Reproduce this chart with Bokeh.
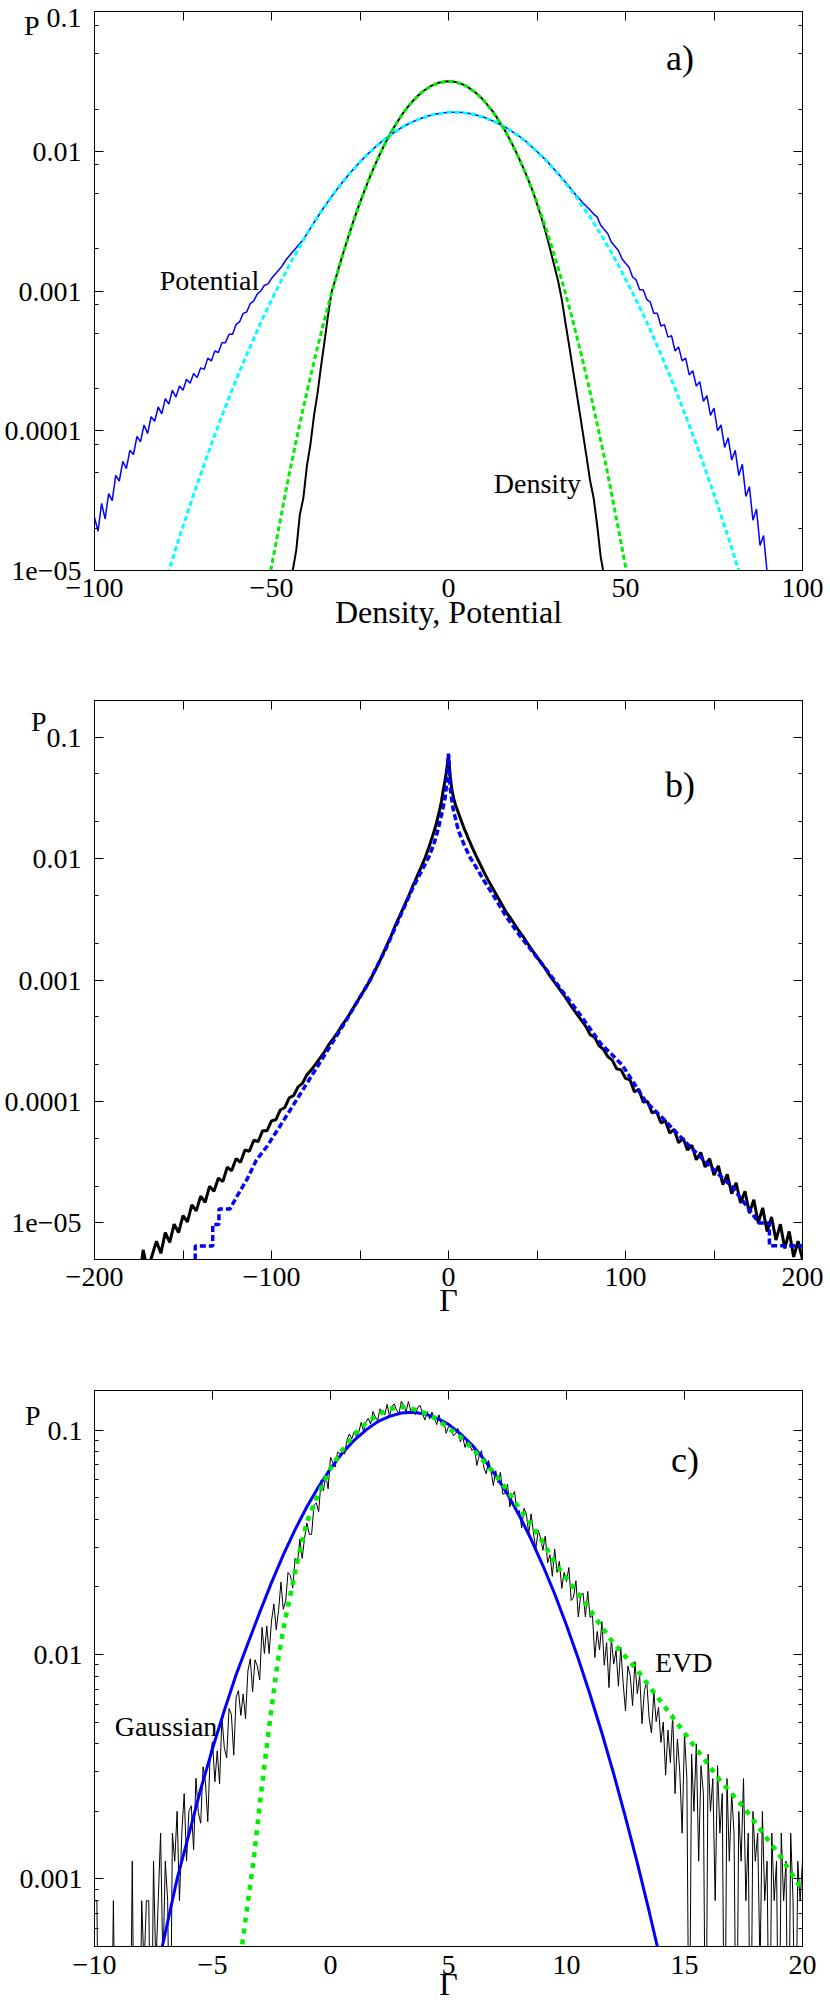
from bokeh.plotting import figure
from bokeh.layouts import column
from bokeh.models import FixedTicker, LogAxis, LinearAxis, Label, Range1d
from bokeh.embed import file_html
from bokeh.resources import INLINE
import numpy as np

FONT = "Liberation Serif"
M = "\u2212"
NB = "\u00a0"

# ---------------- panel a : Density / Potential ----------------
a_dens_x = list(range(-45, 45))
a_dens_p = [
    6.0e-6, 1.0e-5, 1.4e-5, 2.5e-5, 3.3e-5, 5.6e-5, 8.0e-5, 1.28e-4, 1.85e-4, 2.9e-4,
    4.4e-4, 6.8e-4, 9.9e-4, 1.20e-3, 1.47e-3, 1.78e-3, 2.15e-3, 2.58e-3, 3.08e-3, 3.65e-3,
    4.29e-3, 5.02e-3, 5.83e-3, 6.74e-3, 7.73e-3, 8.81e-3, 9.98e-3, 1.125e-2, 1.257e-2, 1.40e-2,
    1.54e-2, 1.69e-2, 1.85e-2, 2.00e-2, 2.15e-2, 2.30e-2, 2.45e-2, 2.58e-2, 2.71e-2, 2.82e-2,
    2.92e-2, 3.01e-2, 3.08e-2, 3.13e-2, 3.16e-2, 3.17e-2, 3.16e-2, 3.13e-2, 3.08e-2, 3.01e-2,
    2.92e-2, 2.82e-2, 2.71e-2, 2.58e-2, 2.45e-2, 2.30e-2, 2.15e-2, 2.00e-2, 1.85e-2, 1.69e-2,
    1.54e-2, 1.40e-2, 1.257e-2, 1.125e-2, 9.98e-3, 8.81e-3, 7.73e-3, 6.74e-3, 5.83e-3, 5.02e-3,
    4.2e-3, 3.5e-3, 2.9e-3, 2.35e-3, 1.86e-3, 1.48e-3, 1.17e-3, 8.7e-4, 6.0e-4, 4.2e-4,
    2.9e-4, 2.0e-4, 1.38e-4, 9.5e-5, 6.5e-5, 4.4e-5, 3.3e-5, 2.1e-5, 1.25e-5, 9.0e-6,
]
a_dfit_x = [-51, -50, -47.5, -45, -42.5, -40, -37.5, -35, -32.5, -30, -27.5, -25, -22.5,
            -20, -17.5, -15, -12.5, -10, -7.5, -5, -2.5, 0, 2.5, 5, 7.5, 10, 12.5, 15,
            17.5, 20, 22.5, 25, 27.5, 30, 32.5, 35, 37.5, 40, 42.5, 45, 47.5, 50, 51]
a_dfit_p = [7.7e-6, 1.07e-5, 2.3e-5, 4.9e-5, 9.8e-5, 1.90e-4, 3.52e-4, 6.30e-4, 1.08e-3,
            1.78e-3, 2.82e-3, 4.29e-3, 6.28e-3, 8.81e-3, 1.19e-2, 1.54e-2, 1.92e-2, 2.30e-2,
            2.65e-2, 2.92e-2, 3.10e-2, 3.17e-2, 3.10e-2, 2.92e-2, 2.65e-2, 2.30e-2, 1.92e-2,
            1.54e-2, 1.19e-2, 8.81e-3, 6.28e-3, 4.29e-3, 2.82e-3, 1.78e-3, 1.08e-3, 6.30e-4,
            3.52e-4, 1.90e-4, 9.8e-5, 4.9e-5, 2.3e-5, 1.07e-5, 7.7e-6]
a_pot_x = list(range(-100, -40)) + list(range(-40, 41, 2)) + list(range(41, 92))
a_pot_p = [
    2.40e-5, 1.91e-5, 3.02e-5, 2.34e-5, 3.55e-5, 3.16e-5, 4.79e-5, 4.37e-5, 6.03e-5, 5.37e-5,
    7.24e-5, 6.76e-5, 9.12e-5, 8.32e-5, 1.10e-4, 9.55e-5, 1.26e-4, 1.17e-4, 1.48e-4, 1.32e-4,
    1.70e-4, 1.55e-4, 1.95e-4, 1.74e-4, 2.09e-4, 1.95e-4, 2.34e-4, 2.19e-4, 2.57e-4, 2.40e-4,
    2.82e-4, 2.75e-4, 3.31e-4, 3.16e-4, 3.72e-4, 3.63e-4, 4.27e-4, 4.27e-4, 4.90e-4, 4.90e-4,
    5.75e-4, 6.03e-4, 6.92e-4, 7.08e-4, 8.13e-4, 8.51e-4, 9.55e-4, 1.00e-3, 1.10e-3, 1.12e-3,
    1.23e-3, 1.32e-3, 1.41e-3, 1.51e-3, 1.66e-3, 1.78e-3, 1.91e-3, 2.04e-3, 2.19e-3, 2.34e-3,
    2.56e-3, 3.09e-3, 3.69e-3, 4.38e-3, 5.14e-3, 5.98e-3, 6.90e-3, 7.87e-3, 8.91e-3, 9.99e-3,
    1.11e-2, 1.22e-2, 1.33e-2, 1.44e-2, 1.54e-2, 1.63e-2, 1.71e-2, 1.78e-2, 1.84e-2, 1.87e-2,
    1.90e-2, 1.90e-2, 1.89e-2, 1.86e-2, 1.81e-2, 1.75e-2, 1.67e-2, 1.58e-2, 1.49e-2, 1.38e-2,
    1.28e-2, 1.17e-2, 1.05e-2, 9.45e-3, 8.39e-3, 7.38e-3, 6.45e-3, 5.62e-3, 4.86e-3, 4.26e-3,
    3.80e-3,
    3.55e-3, 3.39e-3, 2.95e-3, 2.75e-3, 2.57e-3, 2.24e-3, 2.09e-3, 1.95e-3, 1.70e-3, 1.58e-3,
    1.48e-3, 1.26e-3, 1.20e-3, 1.02e-3, 1.02e-3, 8.71e-4, 8.32e-4, 6.92e-4, 6.92e-4, 5.62e-4,
    5.75e-4, 4.68e-4, 4.79e-4, 3.72e-4, 3.98e-4, 3.16e-4, 3.31e-4, 2.51e-4, 2.69e-4, 2.09e-4,
    2.24e-4, 1.62e-4, 1.78e-4, 1.29e-4, 1.45e-4, 1.00e-4, 1.10e-4, 7.59e-5, 8.91e-5, 6.17e-5,
    7.24e-5, 4.79e-5, 5.75e-5, 3.39e-5, 3.98e-5, 2.29e-5, 2.75e-5, 1.51e-5, 1.78e-5, 9.77e-6,
    8.3e-6,
]
a_pfit_x = list(range(-80, 85, 4))
a_pfit_p = [8.3e-6, 1.74e-5, 3.5e-5, 6.8e-5, 1.28e-4, 2.32e-4, 4.0e-4, 6.8e-4, 1.09e-3,
            1.70e-3, 2.56e-3, 3.70e-3, 5.14e-3, 6.9e-3, 8.9e-3, 1.11e-2, 1.33e-2, 1.54e-2,
            1.71e-2, 1.84e-2, 1.90e-2, 1.89e-2, 1.81e-2, 1.67e-2, 1.49e-2, 1.28e-2, 1.05e-2,
            8.4e-3, 6.4e-3, 4.75e-3, 3.38e-3, 2.32e-3, 1.53e-3, 9.7e-4, 6.0e-4, 3.52e-4,
            2.01e-4, 1.10e-4, 5.8e-5, 2.96e-5, 1.45e-5, 6.8e-6]

# ---------------- panel b ----------------
b_data_x = ([-175, -172.5, -170] + [-167.5 + 2.5 * i for i in range(60)]
            + list(range(-19, 20)) + [20 + 2.5 * i for i in range(73)])
b_data_p = [
    3.0e-6, 6.0e-6, 4.0e-6,
    5.37e-6, 7.08e-6, 5.62e-6, 8.32e-6, 6.92e-6, 9.77e-6, 8.32e-6, 1.15e-5, 1.02e-5, 1.41e-5,
    1.26e-5, 1.66e-5, 1.48e-5, 2.00e-5, 1.82e-5, 2.34e-5, 2.19e-5, 2.88e-5, 2.69e-5, 3.39e-5,
    3.16e-5, 3.98e-5, 3.89e-5, 4.79e-5, 4.68e-5, 5.75e-5, 5.75e-5, 6.92e-5, 7.08e-5, 8.51e-5,
    8.91e-5, 1.07e-4, 1.12e-4, 1.32e-4, 1.41e-4, 1.66e-4, 1.82e-4, 2.04e-4, 2.29e-4, 2.57e-4,
    2.95e-4, 3.31e-4, 3.72e-4, 4.27e-4, 4.79e-4, 5.50e-4, 6.31e-4, 7.24e-4, 8.32e-4, 9.55e-4,
    1.12e-3, 1.32e-3, 1.58e-3, 1.91e-3, 2.29e-3, 2.82e-3, 3.39e-3, 4.07e-3, 4.90e-3, 6.03e-3,
    6.46e-3, 7.00e-3, 7.59e-3, 8.13e-3, 8.81e-3, 9.55e-3, 1.035e-2, 1.135e-2, 1.245e-2, 1.38e-2,
    1.53e-2, 1.70e-2, 1.905e-2, 2.19e-2, 2.51e-2, 2.95e-2, 3.63e-2, 4.37e-2, 5.37e-2, 7.21e-2,
    4.68e-2, 3.63e-2, 3.09e-2, 2.75e-2, 2.51e-2, 2.29e-2, 2.09e-2, 1.905e-2, 1.74e-2, 1.62e-2,
    1.48e-2, 1.38e-2, 1.27e-2, 1.175e-2, 1.10e-2, 1.02e-2, 9.55e-3, 8.91e-3, 8.32e-3,
    7.76e-3, 6.61e-3, 5.69e-3, 4.90e-3, 4.22e-3, 3.63e-3, 3.24e-3, 2.85e-3, 2.51e-3, 2.24e-3,
    1.97e-3, 1.74e-3, 1.55e-3, 1.38e-3, 1.22e-3, 1.07e-3, 9.55e-4, 8.51e-4, 7.59e-4, 6.68e-4,
    5.89e-4, 5.25e-4, 4.68e-4, 4.17e-4, 3.55e-4, 3.39e-4, 2.88e-4, 2.69e-4, 2.34e-4, 2.19e-4,
    1.86e-4, 1.82e-4, 1.55e-4, 1.51e-4, 1.20e-4, 1.26e-4, 9.89e-5, 1.00e-4, 8.04e-5, 8.32e-5,
    6.68e-5, 6.92e-5, 5.50e-5, 5.89e-5, 4.57e-5, 5.01e-5, 3.98e-5, 4.37e-5, 3.31e-5, 3.80e-5,
    2.88e-5, 3.39e-5, 2.48e-5, 2.95e-5, 2.07e-5, 2.51e-5, 1.74e-5, 2.14e-5, 1.46e-5, 1.82e-5,
    1.20e-5, 1.55e-5, 1.00e-5, 1.33e-5, 8.51e-6, 1.12e-5, 7.24e-6, 9.77e-6, 6.17e-6, 8.51e-6,
    5.25e-6, 7.08e-6, 5.01e-6,
]
b_fit_x = [-143.1, -143.1, -133.2, -133.2, -129.7, -129.7, -123.5, -119.7, -114.1, -108.5,
           -102.9, -95.4, -86, -73, -58, -44.6, -35, -26.7, -20, -15, -11.2, -8, -5.6, -3.5,
           -1.9, -1, 0, 0.95, 2.5, 5.6, 9, 12.2, 16, 20, 26, 32.7, 40, 47, 53.5, 63, 74.3,
           86, 98.1, 111.4, 121.8, 134, 147, 160, 169.4, 175.3, 181.3, 181.3, 200]
b_fit_p = [3.0e-6, 6.45e-6, 6.45e-6, 9.7e-6, 9.7e-6, 1.3e-5, 1.3e-5, 1.64e-5, 2.25e-5, 3.3e-5,
           4.2e-5, 6.2e-5, 1.02e-4, 2.05e-4, 4.6e-4, 9.8e-4, 1.86e-3, 3.5e-3, 5.8e-3, 8.0e-3,
           1.02e-2, 1.35e-2, 1.80e-2, 2.45e-2, 3.17e-2, 4.2e-2, 7.3e-2, 3.83e-2, 2.6e-2,
           1.70e-2, 1.28e-2, 1.02e-2, 8.3e-3, 6.6e-3, 4.8e-3, 3.3e-3, 2.35e-3, 1.74e-3,
           1.32e-3, 8.6e-4, 5.2e-4, 3.0e-4, 2.0e-4, 1.0e-4, 7.1e-5, 4.6e-5, 3.0e-5, 2.0e-5,
           1.32e-5, 1.0e-5, 1.0e-5, 6.5e-6, 6.5e-6]

# ---------------- panel c ----------------
c_data_x = np.linspace(-10, 20, 301)
c_data_p = [
    8e-4, 8e-4, 1e-4, 1e-4, 1e-4, 4e-4, 1e-4, 1e-4, 8e-4, 1e-4, 1e-4, 4e-4, 1e-4, 1e-4, 4e-4,
    1e-4, 1.2e-3, 1e-4, 4e-4, 1e-4, 8e-4, 4e-4, 8e-4, 8e-4, 1e-4,
    1.2e-3, 4e-4, 8e-4, 1.6e-3, 4e-4, 1.2e-3, 8e-4, 1e-4, 1.6e-3, 1.2e-3, 2.0e-3, 8e-4,
    1.6e-3, 2.4e-3, 1.2e-3, 2.0e-3,
    2.12e-3, 1.35e-3, 2.81e-3, 1.98e-3, 1.77e-3, 3.16e-3, 2.71e-3, 1.80e-3, 3.56e-3, 4.08e-3,
    2.71e-3, 3.72e-3, 2.65e-3, 5.27e-3, 3.84e-3, 3.46e-3, 5.75e-3, 5.41e-3, 3.56e-3, 6.46e-3,
    6.90e-3, 5.35e-3, 6.66e-3, 5.18e-3, 8.44e-3, 9.56e-3, 6.83e-3, 9.47e-3, 8.88e-3, 7.70e-3,
    1.32e-2, 1.01e-2, 1.34e-2, 1.01e-2, 1.41e-2, 1.68e-2, 1.29e-2, 1.57e-2, 2.10e-2, 1.59e-2,
    1.73e-2, 2.32e-2, 2.25e-2, 1.98e-2, 2.68e-2, 2.54e-2, 3.27e-2, 2.68e-2, 3.30e-2, 3.85e-2,
    3.43e-2, 3.43e-2, 4.62e-2, 4.73e-2, 4.33e-2, 5.96e-2, 5.36e-2, 6.28e-2, 5.47e-2, 7.57e-2,
    0.0715, 0.0684, 0.0797, 0.0785, 0.0790, 0.0781, 0.0907, 0.0960, 0.0913, 0.0982,
    0.0932, 0.0979, 0.1082, 0.0984, 0.1085, 0.1128, 0.1063, 0.1209, 0.1142, 0.1104,
    0.1243, 0.1200, 0.1168, 0.1302, 0.1153, 0.1276, 0.1308, 0.1225, 0.1185, 0.1341,
    0.1283, 0.1207, 0.1338, 0.1219, 0.1249, 0.1170, 0.1263, 0.1286, 0.1183, 0.1107,
    0.1208, 0.1119, 0.1201, 0.1130, 0.1057, 0.1169, 0.1057, 0.1105, 0.0967, 0.1034,
    0.1056, 0.0944, 0.0960, 0.1017, 0.0887, 0.0932, 0.0837, 0.0903, 0.0858, 0.0809,
    0.0837, 0.0695, 0.0767, 0.0810, 0.0678, 0.0638, 0.0731, 0.0661, 0.0566, 0.0659,
    0.0583, 0.0648, 0.0518, 0.0523, 0.0574, 0.0455, 0.0508, 0.0532, 0.0424, 0.0438,
    0.0367, 0.0448, 0.0422, 0.0345, 0.0423, 0.0348, 0.0294, 0.0358, 0.0331, 0.0291,
    0.0337, 0.0256, 0.0278, 0.0223, 0.0295, 0.0232, 0.0260, 0.0197, 0.0232, 0.0211,
    0.0244, 0.0174, 0.0180, 0.0213, 0.0147, 0.0183, 0.0188, 0.0147, 0.0191, 0.0146,
    0.01494, 0.00970, 0.01266, 0.01047, 0.01400, 0.00895, 0.01130, 0.00712, 0.01182, 0.00906,
    0.01043, 0.00722, 0.01076, 0.00747, 0.00560, 0.00889, 0.00806, 0.00592, 0.00930, 0.00669,
    0.00805, 0.00492, 0.00690, 0.00763, 0.00523, 0.00447, 0.00678, 0.00503, 0.00582, 0.00406,
    5.0e-3, 2.9e-3, 4.6e-3, 3.3e-3, 5.4e-3, 2.4e-3, 4.2e-3, 3.0e-3, 1.6e-3, 4.4e-3,
    2.8e-3, 1e-4, 3.6e-3, 2.0e-3, 4.0e-3, 1.2e-3, 3.2e-3, 2.4e-3, 1e-4, 3.6e-3,
    2.0e-3, 2.8e-3, 8e-4, 3.2e-3, 1.6e-3, 2.4e-3, 1e-4, 2.8e-3, 1.2e-3, 2.4e-3,
    1.6e-3, 1e-4, 2.0e-3, 1.2e-3, 2.8e-3, 8e-4, 1.6e-3, 1e-4, 2.0e-3, 1.2e-3,
    1.6e-3, 4e-4, 2.0e-3, 8e-4, 1.2e-3, 1e-4, 1.6e-3, 8e-4, 1.2e-3, 1e-4,
    1.6e-3, 8e-4, 1.2e-3, 1e-4, 1.6e-3, 8e-4, 1e-4, 1.2e-3, 8e-4, 1.2e-3,
]
c_gauss_x = [-7.5 + 0.5 * i for i in range(44)]
c_gauss_p = [3.31e-4, 5.75e-4, 1.0e-3, 1.58e-3, 2.51e-3, 3.80e-3, 5.62e-3, 8.13e-3, 1.12e-2,
             1.54e-2, 2.09e-2, 2.78e-2, 3.60e-2, 4.55e-2, 5.60e-2, 6.73e-2, 7.89e-2, 9.00e-2,
             0.100, 0.109, 0.115, 0.119, 0.120, 0.118, 0.113, 0.106, 9.64e-2, 8.57e-2,
             7.41e-2, 6.27e-2, 5.18e-2, 4.16e-2, 3.26e-2, 2.49e-2, 1.86e-2, 1.35e-2, 9.57e-3,
             6.62e-3, 4.47e-3, 2.94e-3, 1.88e-3, 1.18e-3, 7.18e-4, 4.28e-4]
c_evd_x = [-3.8, -3.5, -3.25, -3.0, -2.75, -2.5, -2.25, -2.0, -1.75, -1.5, -1.25, -1.0] + \
          [-0.5 + 0.5 * i for i in range(42)]
c_evd_p = [4.57e-4, 7.94e-4, 1.23e-3, 2.14e-3, 3.55e-3, 5.75e-3, 9.12e-3, 1.29e-2, 1.74e-2,
           2.34e-2, 3.05e-2, 3.89e-2,
           5.25e-2, 6.76e-2, 8.13e-2, 9.55e-2, 0.107, 0.117, 0.124, 0.127, 0.124, 0.119,
           0.112, 0.102, 9.33e-2, 8.32e-2, 7.24e-2, 6.31e-2, 5.37e-2, 4.47e-2, 3.80e-2,
           3.16e-2, 2.57e-2, 2.19e-2, 1.86e-2, 1.58e-2, 1.32e-2, 1.12e-2, 9.77e-3, 8.51e-3,
           7.24e-3, 6.17e-3, 5.25e-3, 4.47e-3, 3.80e-3, 3.24e-3, 2.75e-3, 2.40e-3, 2.09e-3,
           1.78e-3, 1.51e-3, 1.29e-3, 1.07e-3, 8.91e-4]

# ---------------- ticks and tick labels ----------------
y_major = [1e-05, 0.0001, 0.001, 0.01, 0.1]
y_major_labels = ["1e" + M + "05", "0.0001", "0.001", "0.01", "0.1"]
a_x_labeled = [-100, -50, 0, 50, 100]
a_x_top = [-75, -50, -25, 0, 25, 50, 75]
b_x_ticks = [-200, -150, -100, -50, 0, 50, 100, 150, 200]
b_x_labeled = {-200: M + "200", -100: M + "100", 0: "0", 100: "100", 200: "200"}
c_x_ticks = [-10, -5, 0, 5, 10, 15, 20]
c_y_major = [0.001, 0.01, 0.1]
c_y_labels = ["0.001", "0.01", "0.1"]


def minor(mults, decades):
    return [m * 10.0 ** d for d in decades for m in mults]


def num_label(v):
    return (M + str(-v)) if v < 0 else str(v)


def make_fig(h, left, right, top, bottom, xr, yr):
    p = figure(width=830, height=h, x_range=Range1d(*xr), y_range=Range1d(*yr),
               y_axis_type="log", output_backend="svg", toolbar_location=None,
               min_border_left=left, min_border_right=right, min_border_top=top,
               min_border_bottom=bottom)
    p.grid.visible = False
    p.outline_line_color = "black"
    p.outline_line_width = 1
    p.background_fill_color = "white"
    p.border_fill_color = "white"
    return p


def style_axis(ax, size="28px"):
    ax.major_label_text_font = FONT
    ax.major_label_text_font_size = size
    ax.major_label_text_color = "black"
    ax.axis_line_color = "black"
    ax.major_tick_line_color = "black"
    ax.minor_tick_line_color = "black"
    ax.major_tick_out = 0
    ax.minor_tick_out = 0
    ax.major_tick_in = 9
    ax.minor_tick_in = 4


def blank_axis(ax, ticks):
    style_axis(ax, "1px")
    ax.major_label_overrides = {t: "" for t in ticks}
    ax.major_label_standoff = 0


def setup(p, xticks, xlabels, bottom_ticks, top_ticks, yticks, yminor,
          lab_ticks, lab_texts, ystand, xstand, xtitle, xtitle_stand):
    xa = p.xaxis[0]
    xa.ticker = FixedTicker(ticks=xticks)
    xa.major_label_overrides = xlabels
    style_axis(xa)
    xa.major_label_standoff = xstand
    if not bottom_ticks:
        xa.major_tick_in = 0
    xa.axis_label = xtitle
    xa.axis_label_text_font = FONT
    xa.axis_label_text_font_size = "32px"
    xa.axis_label_text_font_style = "normal"
    xa.axis_label_text_color = "black"
    xa.axis_label_standoff = xtitle_stand
    ya = p.yaxis[0]
    ya.ticker = FixedTicker(ticks=yticks, minor_ticks=yminor)
    blank_axis(ya, yticks)
    la = LogAxis(ticker=FixedTicker(ticks=lab_ticks))
    style_axis(la)
    la.major_tick_in = 0
    la.minor_tick_in = 0
    la.axis_line_color = None
    la.major_label_overrides = dict(zip(lab_ticks, lab_texts))
    la.major_label_standoff = ystand
    p.add_layout(la, "left")
    ra = LogAxis(ticker=FixedTicker(ticks=yticks, minor_ticks=yminor))
    blank_axis(ra, yticks)
    p.add_layout(ra, "right")
    ta = LinearAxis(ticker=FixedTicker(ticks=top_ticks))
    blank_axis(ta, top_ticks)
    p.add_layout(ta, "above")


def lab(p, x, y, text, size):
    p.add_layout(Label(x=x, y=y, text=text, text_font=FONT, text_font_size=size,
                       text_align="center", text_baseline="middle", text_color="black"))


# ---- panel a ----
pa = make_fig(650, 94, 23, 11, 80, (-100, 100), (1e-5, 0.1))
setup(pa, a_x_labeled, {v: num_label(v) for v in a_x_labeled}, False, a_x_top,
      y_major, minor([2, 5, 8], range(-5, -1)),
      [1e-05, 0.0001, 0.001, 0.01, 0.091, 0.0794],
      y_major_labels[:4] + ["0.1", "P" + NB * 6], 13, 8, "Density, Potential", -6)
pa.line(a_pot_x, a_pot_p, line_color="#0000ff", line_width=1.5)
pa.line(a_dens_x, a_dens_p, line_color="black", line_width=2)
pa.line(a_pfit_x, a_pfit_p, line_color="#00ffff", line_width=3, line_dash="5 3")
pa.line(a_dfit_x, a_dfit_p, line_color="#00ee00", line_width=3, line_dash="5 3")
lab(pa, 65.4, 0.0468, "a)", "36px")
lab(pa, -67.5, 1.19e-3, "Potential", "28px")
lab(pa, 25.1, 4.2e-5, "Density", "28px")

# ---- panel b ----
pb = make_fig(685, 94, 23, 50, 76, (-200, 200), (5e-6, 0.2))
setup(pb, b_x_ticks, {v: b_x_labeled.get(v, "") for v in b_x_ticks}, True,
      [-150, -100, -50, 0, 50, 100, 150], y_major, minor([2, 5], range(-6, 0)),
      y_major + [0.1343], y_major_labels + ["P" + NB * 5], 13, 8, "\u0393", -7)
pb.line(b_data_x, b_data_p, line_color="black", line_width=3)
pb.line(b_fit_x, b_fit_p, line_color="#0000ff", line_width=3.5, line_dash="6 3")
lab(pb, 130.8, 0.0406, "b)", "36px")

# ---- panel c ----
pc = make_fig(669, 78, 28, 55, 55, (-10, 20), (5e-4, 0.15))
setup(pc, c_x_ticks, {v: num_label(v) for v in c_x_ticks}, False,
      [-5, 0, 5, 10, 15], c_y_major,
      minor([2, 3, 4, 5, 6, 7, 8, 9], range(-4, -1)) + [0.0005],
      c_y_major + [0.1162], c_y_labels + ["P" + NB * 6], 12, 9, "\u0393", -11)
pc.line(c_data_x, c_data_p, line_color="black", line_width=1)
pc.line(c_gauss_x, c_gauss_p, line_color="#0000ff", line_width=3)
pc.line(c_evd_x, c_evd_p, line_color="#00ee00", line_width=4.5, line_dash="5 6")
lab(pc, 15.02, 0.0739, "c)", "36px")
lab(pc, 14.97, 9.22e-3, "EVD", "28px")
lab(pc, -6.97, 4.8e-3, "Gaussian", "28px")

layout = column(pa, pb, pc)
open("out.html", "w").write(file_html(layout, INLINE))
